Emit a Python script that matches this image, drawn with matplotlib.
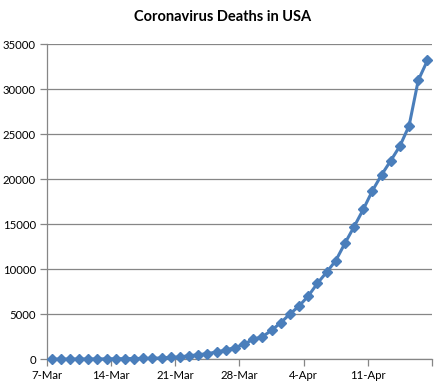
import datetime as dt
import matplotlib
matplotlib.use('Agg')
import matplotlib.pyplot as plt
import matplotlib.dates as mdates
from matplotlib.ticker import FixedLocator

plt.rcParams['font.family'] = ['Lato', 'DejaVu Sans']

# daily cumulative deaths, 7-Mar .. 17-Apr
start = dt.date(2020, 3, 7)
deaths = [19, 22, 26, 30, 38, 41, 48, 57, 69, 86,
          100, 110, 150, 210, 260, 400, 500, 640, 800, 1030,
          1300, 1680, 2220, 2510, 3220, 4070, 5030, 5920, 7030, 8440,
          9670, 10960, 12890, 14730, 16650, 18730, 20500, 22070, 23700, 25950,
          31000, 33200]
y_ticks = [0, 5000, 10000, 15000, 20000, 25000, 30000, 35000]
x_labels = ['7-Mar', '14-Mar', '21-Mar', '28-Mar', '4-Apr', '11-Apr', '']
title = 'Coronavirus Deaths in USA'

days = [start + dt.timedelta(days=i) for i in range(len(deaths))]
# Excel date axis puts each point in the middle of its day
xs = [mdates.date2num(d) + 0.5 for d in days]
x0 = mdates.date2num(start)

fig = plt.figure(figsize=(4.45, 3.91), dpi=100)
ax = fig.add_axes([0.1056, 0.0811, 0.8652, 0.8056])

grid_c = '#868686'
ax.plot(xs, deaths, color='#4A7EBB', lw=2.2, marker='D', ms=5.2,
        mec='#4A7EBB', mfc='#4A7EBB', zorder=3, clip_on=False)

ax.set_xlim(x0, x0 + 42)
ax.set_ylim(0, 35000)
ax.set_yticks(y_ticks)
ax.set_yticklabels([str(v) for v in y_ticks])
ax.xaxis.set_major_locator(FixedLocator([x0 + 7 * k for k in range(7)]))
ax.set_xticklabels(x_labels)

ax.grid(axis='y', color=grid_c, lw=0.9)
ax.set_axisbelow(True)
for s in ['top', 'right']:
    ax.spines[s].set_visible(False)
for s in ['left', 'bottom']:
    ax.spines[s].set_color(grid_c)
    ax.spines[s].set_linewidth(0.9)
ax.tick_params(axis='both', color=grid_c, length=5, width=0.9,
               labelsize=8.2, labelcolor='black')
ax.tick_params(axis='y', pad=3)
ax.tick_params(axis='x', pad=3)

fig.text(0.5, 0.956, title, ha='center', va='center',
         fontsize=10.5, fontweight='bold')

fig.savefig('out.png', dpi=100)
